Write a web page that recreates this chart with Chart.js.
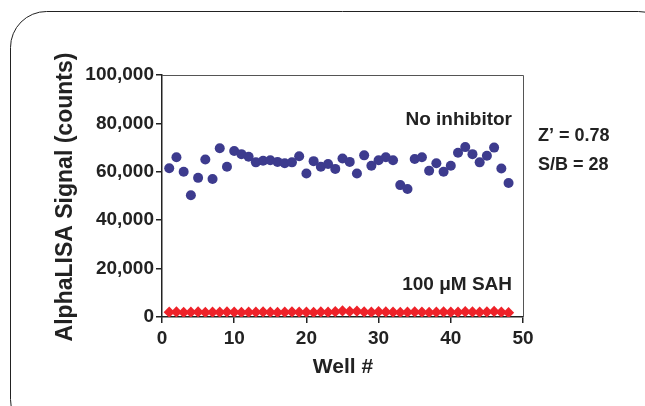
<!DOCTYPE html>
<html>
<head>
<meta charset="utf-8">
<script src="https://cdn.jsdelivr.net/npm/chart.js@4"></script>
<style>
  html, body { margin: 0; padding: 0; background: #fff; }
  #wrap { width: 645px; height: 406px; position: relative; }
</style>
</head>
<body>
<div id="wrap"><canvas id="wellChart"></canvas></div>
<script>
const wells = [1, 2, 3, 4, 5, 6, 7, 8, 9, 10, 11, 12, 13, 14, 15, 16,
  17, 18, 19, 20, 21, 22, 23, 24, 25, 26, 27, 28, 29, 30, 31, 32,
  33, 34, 35, 36, 37, 38, 39, 40, 41, 42, 43, 44, 45, 46, 47, 48];

const noInhibitor = [61500, 66000, 60000, 50300, 57500, 65100, 57000, 69700,
  62100, 68600, 67300, 66200, 63900, 64600, 64800, 64100,
  63500, 63900, 66400, 59300, 64400, 62100, 63200, 61200,
  65500, 64100, 59300, 66800, 62500, 64800, 66000, 64800,
  54500, 52900, 65300, 66000, 60400, 63500, 60000, 62500,
  67900, 70200, 67300, 63900, 66600, 70000, 61400, 55400];

const sah100 = [2000, 2100, 1900, 2000, 2100, 1900, 2000, 2000,
  2100, 2000, 1900, 2000, 2000, 2100, 2000, 1900,
  2000, 2100, 2000, 2000, 1900, 2100, 2000, 2200,
  2500, 2300, 2400, 2100, 2000, 2200, 2100, 2000,
  1900, 2000, 2100, 2000, 1900, 2000, 2100, 2000,
  2000, 2200, 2100, 2000, 2100, 2300, 2000, 1800];

const xTicks = [0, 10, 20, 30, 40, 50];
const yTicks = [0, 20000, 40000, 60000, 80000, 100000];

const FONT = '"Liberation Sans", Arial, sans-serif';

function toPoints(ys) {
  return wells.map((w, i) => ({ x: w, y: ys[i] }));
}

// frame, box lines and text labels
const decor = {
  id: 'decor',
  beforeDraw(chart) {
    const c = chart.ctx;
    c.save();
    c.fillStyle = '#fff';
    c.fillRect(0, 0, chart.width, chart.height);
    c.strokeStyle = '#222';
    c.lineWidth = 1;
    c.beginPath();
    c.roundRect(10.5, 11.5, 664, 424, 36);
    c.stroke();
    c.restore();
  },
  afterDatasetsDraw(chart) {
    const c = chart.ctx;
    const a = chart.chartArea;
    c.save();
    c.strokeStyle = '#555';
    c.lineWidth = 1;
    c.beginPath();
    c.moveTo(a.left, a.top + 0.5);
    c.lineTo(a.right + 0.5, a.top + 0.5);
    c.lineTo(a.right + 0.5, a.bottom);
    c.stroke();

    c.fillStyle = '#222';
    c.font = 'bold 19px ' + FONT;
    c.textBaseline = 'middle';
    c.textAlign = 'right';
    c.fillText('No inhibitor', 512, 120);
    c.fillText('100 \u03BCM SAH', 512, 285);
    c.textAlign = 'left';
    c.font = 'bold 18px ' + FONT;
    c.fillText('Z\u2019 = 0.78', 538, 136);
    c.fillText('S/B = 28', 538, 165);

    c.textAlign = 'center';
    c.font = 'bold 21px ' + FONT;
    c.fillText('Well #', 343, 367);
    c.translate(66, 197);
    c.rotate(-Math.PI / 2);
    c.font = 'bold 23px ' + FONT;
    c.fillText('AlphaLISA Signal (counts)', 0, 0);
    c.restore();
  }
};

new Chart(document.getElementById('wellChart'), {
  type: 'scatter',
  data: {
    datasets: [
      {
        label: 'No inhibitor',
        data: toPoints(noInhibitor),
        backgroundColor: '#3d3b8e',
        borderWidth: 0,
        pointRadius: 5,
        pointHoverRadius: 5
      },
      {
        label: '100 uM SAH',
        data: toPoints(sah100),
        backgroundColor: '#ee2229',
        borderWidth: 0,
        pointStyle: 'rectRot',
        pointRadius: 5.6,
        pointHoverRadius: 5.6
      }
    ]
  },
  options: {
    responsive: true,
    maintainAspectRatio: false,
    animation: false,
    layout: { padding: { top: 75, right: 122, bottom: 0, left: 0 } },
    plugins: { legend: { display: false }, tooltip: { enabled: false } },
    scales: {
      x: {
        type: 'linear',
        min: 0,
        max: 50,
        afterFit(s) { s.height = 89; },
        afterBuildTicks(s) { s.ticks = xTicks.map(v => ({ value: v })); },
        border: { color: '#222', width: 1.5 },
        grid: { drawOnChartArea: false, drawTicks: true, tickLength: 6, color: '#222', lineWidth: 1.5 },
        ticks: { color: '#222', padding: 4, font: { family: FONT, size: 19, weight: 'bold' } }
      },
      y: {
        min: 0,
        max: 100000,
        afterFit(s) { s.width = 162; },
        afterBuildTicks(s) { s.ticks = yTicks.map(v => ({ value: v })); },
        border: { color: '#222', width: 1.5 },
        grid: { drawOnChartArea: false, drawTicks: true, tickLength: 6, color: '#222', lineWidth: 1.5 },
        ticks: {
          color: '#222',
          padding: 2,
          font: { family: FONT, size: 19, weight: 'bold' },
          callback: v => v.toLocaleString('en-US')
        }
      }
    }
  },
  plugins: [decor]
});
</script>
</body>
</html>
